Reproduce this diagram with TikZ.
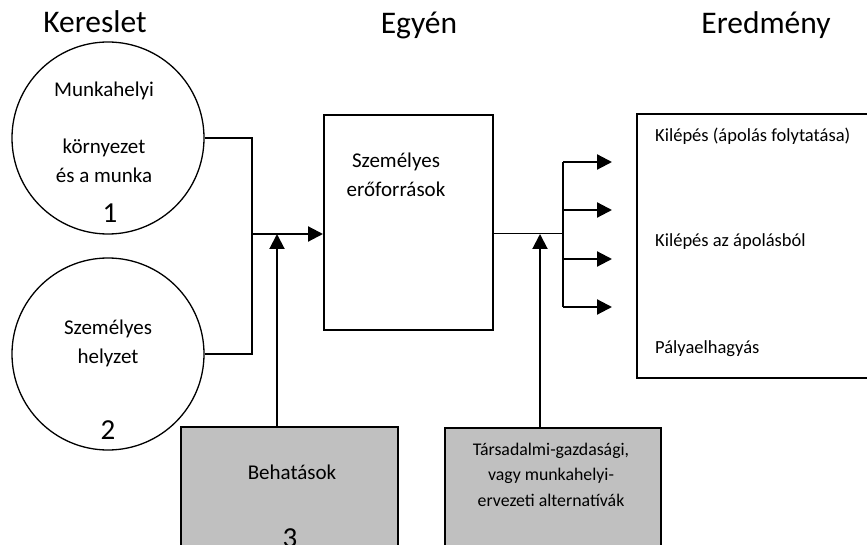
\documentclass[tikz,border=0pt]{standalone}
\usepackage{fontspec}
\setmainfont{Carlito}
\usetikzlibrary{arrows.meta,positioning,calc}
\definecolor{BoxGray}{HTML}{C0C0C0}

\begin{document}
\begin{tikzpicture}[x=1pt, y=-1pt,
  circ/.style={circle, draw, line width=1.3pt, minimum size=192pt, inner sep=0pt},
  box/.style={rectangle, draw, line width=1.6pt, inner sep=0pt, anchor=north west},
  gbox/.style={box, fill=BoxGray},
  txt/.style={align=center, anchor=base, inner sep=0pt, font=\fontsize{21}{29}\selectfont},
  stxt/.style={align=center, anchor=base, inner sep=0pt, font=\fontsize{17.8}{25.5}\selectfont},
  rtxt/.style={anchor=base west, inner sep=0pt, font=\fontsize{18.5}{22}\selectfont},
  head/.style={anchor=base, inner sep=0pt, font=\fontsize{31.5}{36}\selectfont},
  num/.style={anchor=base, inner sep=0pt, font=\fontsize{29}{34}\selectfont},
  link/.style={line width=1.2pt},
  arr/.style={line width=2.2pt, -{Triangle[length=15pt,width=15pt]}}
]
\useasboundingbox (0,0) rectangle (867,545);
\clip (0,0) rectangle (867,545);

% column titles
\node[head] (hdem) at (95,33)  {Kereslet};
\node[head] (hind) at (419,34) {Egyén};
\node[head] (hres) at (766,34) {Eredmény};

% demand side
\node[circ] (c1) at (108,138) {};
\node[txt]  (c1t) at (104,183) {Munkahelyi\\[28pt]környezet\\és a munka};
\node[num]  (c1n) at (110,223) {1};
\node[circ] (c2) at (108,354) {};
\node[txt]  (c2t) at (108,363) {Személyes\\helyzet};
\node[num]  (c2n) at (108,439) {2};

% individual
\node[box, minimum width=169pt, minimum height=215pt] (er) at (323,114) {};
\node[txt] (ert) at (396,197) {Személyes\\erőforrások};

% influences
\node[gbox, minimum width=217pt, minimum height=150pt] (beh) at (180,426) {};
\node[txt] (beht) at (292,479) {Behatások};
\node[num] (behn) at (290,547) {3};
\node[gbox, minimum width=216pt, minimum height=150pt] (alt) at (444,427) {};
\node[stxt] (altt) at (551,506) {Társadalmi-gazdasági,\\vagy munkahelyi-\\ervezeti alternatívák};

% outcomes
\node[box, minimum width=234pt, minimum height=264pt] (res) at (636,113) {};
\node[rtxt] (r1) at (655,142) {Kilépés (ápolás folytatása)};
\node[rtxt] (r2) at (655,247) {Kilépés az ápolásból};
\node[rtxt] (r3) at (655,353) {Pályaelhagyás};

% junctions
\coordinate (jl) at (252,234);
\coordinate (bj) at (277,234);
\coordinate (aj) at (540,234);
\coordinate (fk) at (563,234);

\draw[link] (c1.east) -| (jl);
\draw[link] (c2.east) -| (jl);
\draw[arr] (jl) -- (jl -| er.west);
\draw[arr, line width=2pt] (bj |- beh.north) -- (bj);

\draw[line width=1pt] (fk -| er.east) -- (fk);
\draw[arr, line width=2pt] (aj |- alt.north) -- (aj);
\draw[line width=2pt] (563,162) -- (563,307);
\foreach \y [count=\i] in {162,210,259,307}
  \draw[arr] (563,\y) -- (612,\y);
\end{tikzpicture}
\end{document}
